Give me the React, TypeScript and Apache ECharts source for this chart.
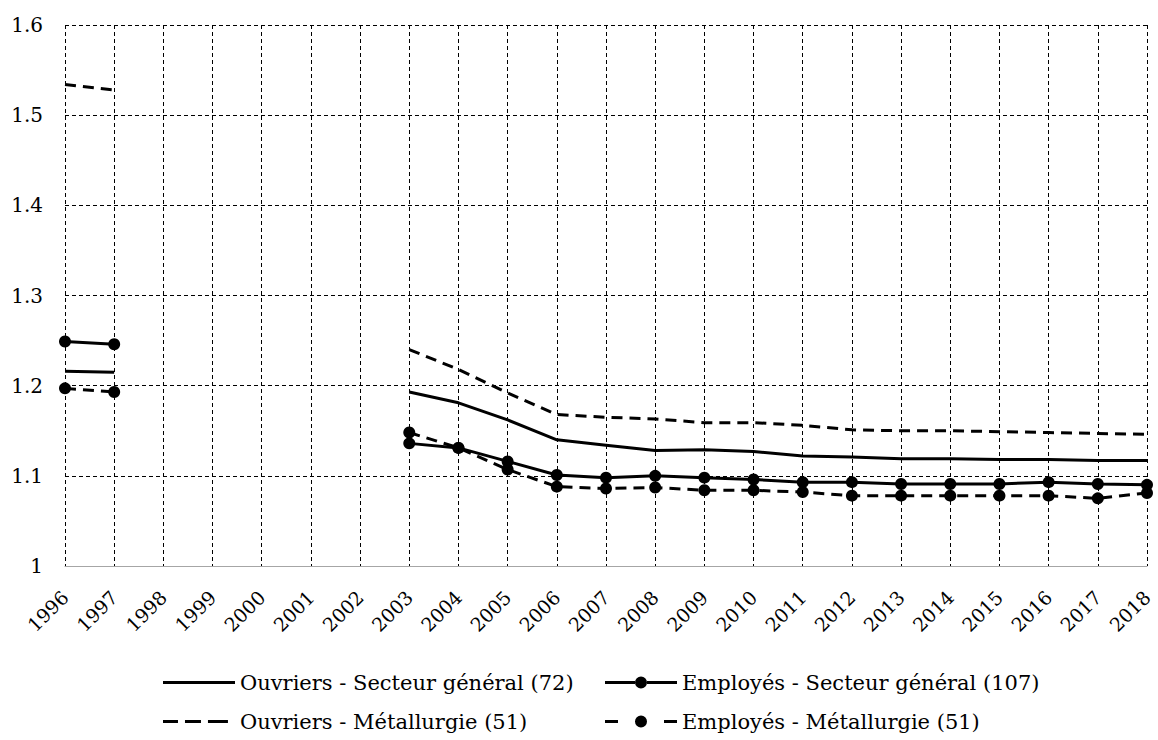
import React, { useEffect, useRef } from "react";
import * as echarts from "echarts";

const years = ["1996","1997","1998","1999","2000","2001","2002","2003","2004","2005","2006","2007","2008","2009","2010","2011","2012","2013","2014","2015","2016","2017","2018"];
const ouvriersSG = [1.216, 1.215, null, null, null, null, null, 1.193, 1.181, 1.162, 1.140, 1.134, 1.128, 1.129, 1.127, 1.122, 1.121, 1.119, 1.119, 1.118, 1.118, 1.117, 1.117];
const employesSG = [1.249, 1.246, null, null, null, null, null, 1.136, 1.131, 1.116, 1.101, 1.098, 1.100, 1.098, 1.096, 1.093, 1.093, 1.091, 1.091, 1.091, 1.093, 1.091, 1.090];
const ouvriersM = [1.534, 1.528, null, null, null, null, null, 1.240, 1.218, 1.192, 1.168, 1.165, 1.163, 1.159, 1.159, 1.156, 1.151, 1.150, 1.150, 1.149, 1.148, 1.147, 1.146];
const employesM = [1.197, 1.193, null, null, null, null, null, 1.148, 1.131, 1.107, 1.088, 1.086, 1.087, 1.084, 1.084, 1.082, 1.078, 1.078, 1.078, 1.078, 1.078, 1.075, 1.081];
const names = [
  "Ouvriers - Secteur général (72)",
  "Employés - Secteur général (107)",
  "Ouvriers - Métallurgie (51)",
  "Employés - Métallurgie (51)",
];

const FONT = "DejaVu Serif";

const CIRCLE = "M42,6.5a6,6 0 1,0 -12,0a6,6 0 1,0 12,0z";
const ICONS = [
  "path://M0,5h72v3h-72z",
  "path://M0,5h30v3h-30z M42,5h30v3h-30z " + CIRCLE,
  "path://M0,5h15v3h-15z M22,5h16v3h-16z M45,5h20v3h-20z M0,0.5h0.01v0.01h-0.01z M72,12.5h0.01v0.01h-0.01z",
  "path://M0,5h13v3h-13z M59,5h13v3h-13z " + CIRCLE,
];

export default function App() {
  const ref = useRef<HTMLDivElement>(null);
  useEffect(() => {
    if (!ref.current) return;
    const chart = echarts.init(ref.current, null, { renderer: "svg" });
    const legendBase = {
      itemWidth: 72,
      itemHeight: 12,
      padding: 0,
      textStyle: { fontFamily: FONT, fontSize: 21, color: "#000" },
      selectedMode: false,
    };
    const dashed = [11, 7];
    chart.setOption({
      animation: false,
      backgroundColor: "#fff",
      textStyle: { fontFamily: FONT },
      grid: { left: 65, right: 11, top: 25, bottom: 174, containLabel: false },
      legend: [
        { ...legendBase, data: [{ name: names[0], icon: ICONS[0] }], left: 163, top: 672 },
        { ...legendBase, data: [{ name: names[1], icon: ICONS[1] }], left: 605, top: 672 },
        { ...legendBase, data: [{ name: names[2], icon: ICONS[2] }], left: 163, top: 711 },
        { ...legendBase, data: [{ name: names[3], icon: ICONS[3] }], left: 605, top: 711 },
      ],
      xAxis: {
        type: "category",
        data: years,
        boundaryGap: false,
        axisLine: { show: true, lineStyle: { color: "#a6a6a6", width: 1 } },
        axisTick: { show: false },
        axisLabel: {
          rotate: 45,
          margin: 28,
          interval: 0,
          fontFamily: FONT,
          fontSize: 19,
          color: "#000",
        },
        splitLine: { show: true, lineStyle: { color: "#000", type: [4, 3], width: 1 } },
      },
      yAxis: {
        type: "value",
        min: 1,
        max: 1.6,
        interval: 0.1,
        axisLine: { show: false },
        axisTick: { show: false },
        axisLabel: {
          margin: 22,
          fontFamily: FONT,
          fontSize: 20,
          color: "#000",
          formatter: (v: number) => (Math.abs(v - 1) < 1e-9 ? "1" : v.toFixed(1)),
        },
        splitLine: { show: true, lineStyle: { color: "#000", type: [4, 3], width: 1 } },
      },
      series: [
        {
          name: names[0],
          type: "line",
          data: ouvriersSG,
          connectNulls: false,
          symbol: "none",
          lineStyle: { color: "#000", width: 3, type: "solid" },
          itemStyle: { color: "#000" },
        },
        {
          name: names[1],
          type: "line",
          data: employesSG,
          connectNulls: false,
          symbol: "circle",
          symbolSize: 12,
          lineStyle: { color: "#000", width: 3, type: "solid" },
          itemStyle: { color: "#000" },
        },
        {
          name: names[2],
          type: "line",
          data: ouvriersM,
          connectNulls: false,
          symbol: "none",
          lineStyle: { color: "#000", width: 3, type: dashed },
          itemStyle: { color: "#000" },
        },
        {
          name: names[3],
          type: "line",
          data: employesM,
          connectNulls: false,
          symbol: "circle",
          symbolSize: 12,
          lineStyle: { color: "#000", width: 3, type: dashed },
          itemStyle: { color: "#000" },
        },
      ],
    });
    return () => chart.dispose();
  }, []);
  return (
    <div
      ref={ref}
      style={{ position: "fixed", left: 0, top: 0, width: 1158, height: 740, background: "#fff" }}
    />
  );
}
